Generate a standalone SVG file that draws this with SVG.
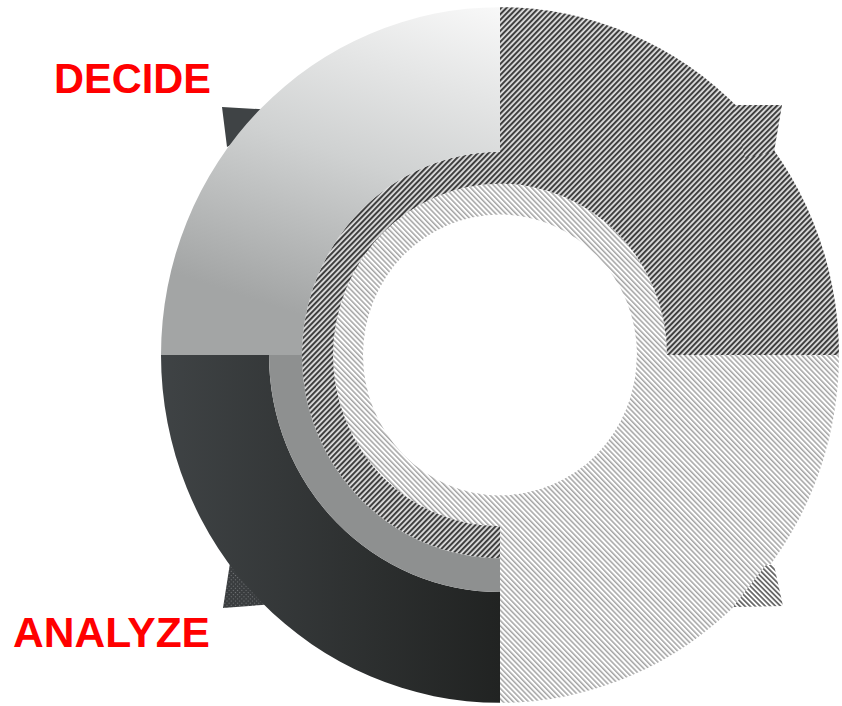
<svg xmlns="http://www.w3.org/2000/svg" width="842" height="706" viewBox="0 0 842 706">
  <defs>
    <pattern id="dh" width="3.8" height="3.8" patternUnits="userSpaceOnUse" patternTransform="rotate(45)">
      <rect width="3.8" height="3.8" fill="#dedede"/>
      <rect width="2" height="3.8" fill="#3f3f3f"/>
    </pattern>
    <pattern id="lh" width="3.6" height="3.6" patternUnits="userSpaceOnUse" patternTransform="rotate(-45)">
      <rect width="3.6" height="3.6" fill="#ffffff"/>
      <rect width="1.5" height="3.6" fill="#a4a4a4"/>
    </pattern>
    <pattern id="lh2" width="3.6" height="3.6" patternUnits="userSpaceOnUse" patternTransform="rotate(-45)">
      <rect width="3.6" height="3.6" fill="#ffffff"/>
      <rect width="1.8" height="3.6" fill="#6a6a6a"/>
    </pattern>
    <pattern id="dots" width="3" height="3" patternUnits="userSpaceOnUse" patternTransform="rotate(45)">
      <rect width="3" height="3" fill="#3a3d3f"/>
      <rect width="1" height="1" fill="#75787a"/>
    </pattern>
    <linearGradient id="gLight" gradientUnits="userSpaceOnUse" x1="30" y1="-339" x2="-80" y2="0">
      <stop offset="0" stop-color="#fafafa"/>
      <stop offset="0.55" stop-color="#cfd1d1"/>
      <stop offset="1" stop-color="#a3a5a5"/>
    </linearGradient>
    <linearGradient id="gDark" gradientUnits="userSpaceOnUse" x1="-339" y1="0" x2="0" y2="0">
      <stop offset="0" stop-color="#3f4345"/>
      <stop offset="1" stop-color="#212322"/>
    </linearGradient>
    <style>
      .lbl { font-family: "Liberation Sans", Arial, sans-serif; font-weight: bold; font-size: 42px; fill: #ff0000; }
    </style>
  </defs>

  <g id="connectors">
    <!-- arrowheads partially hidden below segments -->
    <polygon points="222,107 292,111 227,147" fill="#3f4345"/>
    <polygon points="230,563 223,608 262,605 290,600" fill="url(#dots)"/>
  </g>

  <g id="act" transform="translate(500,355) scale(1,1.026)">
    <path fill="url(#lh)" d="M 339 0 A 339 339 0 0 1 0 339 L 0 137 A 137 137 0 0 0 137 0 Z"/>
    <path fill="url(#lh)" fill-rule="evenodd" d="M -167 0 A 167 167 0 1 1 167 0 A 167 167 0 1 1 -167 0 Z M -137 0 A 137 137 0 1 0 137 0 A 137 137 0 1 0 -137 0 Z"/>
  </g>
  <polygon id="act-head" points="766,565 774,565 783,606 733,607" fill="url(#lh2)"/>

  <g id="plan">
    <g transform="translate(500,355) scale(1,1.026)">
      <path fill="url(#dh)" d="M 0 -339 A 339 339 0 0 1 339 0 L 167 0 A 167 167 0 0 0 0 -167 Z"/>
      <path fill="url(#dh)" d="M 0 -198 A 198 198 0 0 0 -198 0 A 198 198 0 0 0 0 198 L 0 167 A 167 167 0 0 1 -167 0 A 167 167 0 0 1 0 -167 Z"/>
    </g>
    <polygon points="733,105 782,105 774,152 745,158" fill="url(#dh)"/>
  </g>

  <g id="analyze">
    <g transform="translate(500,355) scale(1,1.026)">
      <path fill="url(#gDark)" d="M -339 0 A 339 339 0 0 0 0 339 L 0 231 A 231 231 0 0 1 -231 0 Z"/>
    </g>
    <text class="lbl" x="13" y="647" textLength="197" lengthAdjust="spacingAndGlyphs">ANALYZE</text>
  </g>

  <g id="decide">
    <g transform="translate(500,355) scale(1,1.026)">
      <path fill="#8e9090" d="M -231 0 A 231 231 0 0 0 0 231 L 0 198 A 198 198 0 0 1 -198 0 Z"/>
      <path fill="url(#gLight)" d="M -339 0 A 339 339 0 0 1 0 -339 L 0 -198 A 198 198 0 0 0 -198 0 Z"/>
    </g>
    <text class="lbl" x="54" y="93" textLength="157" lengthAdjust="spacingAndGlyphs">DECIDE</text>
  </g>
</svg>
